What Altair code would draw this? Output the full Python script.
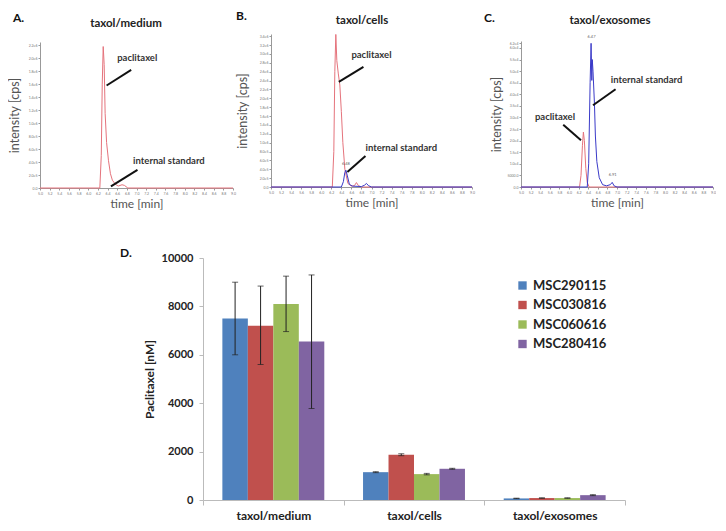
import altair as alt
import pandas as pd

RED = "#E5737C"
BLUE = "#3A3AC8"
FONT = "Lato"

# ---------- chromatogram data (time [min], intensity [cps]) ----------
a_pac_t = [5.0, 6.24, 6.27, 6.29, 6.31, 6.33, 6.35, 6.38, 6.42, 6.46, 6.50, 6.56, 6.62, 6.70, 6.75, 6.82, 9.0]
a_pac_i = [0, 0, 0.5e6, 1.6e6, 2.18e6, 1.9e6, 1.15e6, 0.7e6, 0.42e6, 0.22e6, 0.12e6, 0.06e6, 0.03e6, 0.05e6, 0.04e6, 0, 0]

b_pac_t = [5.0, 6.22, 6.25, 6.27, 6.29, 6.31, 6.34, 6.37, 6.40, 6.43, 6.47, 6.53, 6.60, 6.66, 6.70, 6.74, 6.80, 9.0]
b_pac_i = [0, 0, 0.8e6, 2.6e6, 3.44e6, 2.85e6, 2.55e6, 2.3e6, 1.7e6, 1.0e6, 0.4e6, 0.08e6, 0.02e6, 0.03e6, 0.1e6, 0.03e6, 0, 0]
b_is_t = [5.0, 6.40, 6.44, 6.47, 6.49, 6.52, 6.56, 6.62, 6.80, 6.86, 6.90, 6.94, 7.0, 9.0]
b_is_i = [0, 0, 0.12e6, 0.33e6, 0.38e6, 0.25e6, 0.06e6, 0.02e6, 0.01e6, 0.04e6, 0.08e6, 0.03e6, 0, 0]

c_pac_t = [5.0, 6.22, 6.25, 6.28, 6.30, 6.32, 6.35, 6.38, 6.42, 9.0]
c_pac_i = [0, 0, 0.5e4, 1.8e4, 2.37e4, 2.0e4, 0.8e4, 0.2e4, 0, 0]
c_is_t = [5.0, 6.38, 6.41, 6.44, 6.46, 6.475, 6.485, 6.50, 6.53, 6.55, 6.58, 6.63, 6.70, 6.78, 6.86, 6.90, 6.94, 7.0, 9.0]
c_is_i = [0, 0, 1.0e4, 4.5e4, 6.2e4, 4.6e4, 5.5e4, 5.0e4, 3.6e4, 2.2e4, 1.1e4, 0.4e4, 0.1e4, 0.05e4, 0.1e4, 0.2e4, 0.05e4, 0, 0]

x_ticks = [5.0, 5.2, 5.4, 5.6, 5.8, 6.0, 6.2, 6.4, 6.6, 6.8, 7.0, 7.2, 7.4, 7.6, 7.8, 8.0, 8.2, 8.4, 8.6, 8.8, 9.0]
a_yticks = [0, 2e5, 4e5, 6e5, 8e5, 1e6, 1.2e6, 1.4e6, 1.6e6, 1.8e6, 2.0e6, 2.2e6]
b_yticks = [0, 2e5, 4e5, 6e5, 8e5, 1e6, 1.2e6, 1.4e6, 1.6e6, 1.8e6, 2.0e6, 2.2e6, 2.4e6, 2.6e6, 2.8e6, 3.0e6, 3.2e6, 3.4e6]
c_yticks = [0, 5000, 10000, 15000, 20000, 25000, 30000, 35000, 40000, 45000, 50000, 55000, 60000, 62000]

# annotations (label text, x, y) and callout lines (x, y, x2, y2) in data units
a_lab_text = ["paclitaxel", "internal standard"]
a_lab_x = [6.60, 6.93]
a_lab_y = [2.0e6, 0.42e6]
a_arr = [[6.89, 1.82e6, 6.38, 1.58e6], [7.02, 0.28e6, 6.47, 0.026e6]]

b_lab_text = ["paclitaxel", "internal standard"]
b_lab_x = [6.60, 6.88]
b_lab_y = [2.98e6, 0.89e6]
b_arr = [[6.84, 2.71e6, 6.35, 2.37e6], [6.88, 0.70e6, 6.52, 0.34e6]]
b_peak = [["6.48", 6.49, 0.47e6]]

c_lab_text = ["internal standard", "paclitaxel"]
c_lab_x = [6.87, 5.29]
c_lab_y = [4.6e4, 3.02e4]
c_arr = [[6.97, 4.22e4, 6.50, 3.53e4], [5.88, 2.69e4, 6.25, 2.02e4]]
c_peak = [["6.47", 6.47, 6.4e4], ["6.91", 6.91, 0.45e4]]

# ---------- bar chart data ----------
categories = ["taxol/medium", "taxol/cells", "taxol/exosomes"]
series = ["MSC290115", "MSC030816", "MSC060616", "MSC280416"]
bar_colors = ["#4F81BD", "#C0504D", "#9BBB59", "#8064A2"]
v_290115 = [7500, 1150, 65]
v_030816 = [7200, 1870, 80]
v_060616 = [8100, 1070, 80]
v_280416 = [6550, 1290, 200]
lo_290115 = [6000, 1130, 55]
hi_290115 = [9000, 1170, 75]
lo_030816 = [5600, 1830, 70]
hi_030816 = [8840, 1910, 90]
lo_060616 = [6960, 1040, 70]
hi_060616 = [9250, 1100, 90]
lo_280416 = [3780, 1270, 180]
hi_280416 = [9300, 1310, 220]


def lab_expr(special=None):
    e = "datum.value == 0 ? '0.0' : "
    if special:
        e += "datum.value == %d ? '%s' : " % special
    e += "replace(format(datum.value, '.1e'), '+', '')"
    return e


def chromo(traces, ymax, yticks, yexpr, w, h, yrange, letter, title, anchor_xy, letter_xy, title_xy,
           lab_text, lab_x, lab_y, arrows, peaks, ytitle_pad):
    rows = []
    for name, ts, vs in traces:
        for t, v in zip(ts, vs):
            rows.append({"t": t, "i": v, "trace": name})
    df = pd.DataFrame(rows)
    xs = alt.X("t:Q", scale=alt.Scale(domain=[5, 9], nice=False, zero=False),
               axis=alt.Axis(values=x_ticks, format=".1f", title="time [min]", labelFontSize=3.5,
                             labelColor="#777", tickSize=2, tickColor="#999", domainColor="#999",
                             labelPadding=1, labelOverlap=False, labelFlush=False, grid=False,
                             titleFont=FONT, titleFontSize=12, titleFontWeight="normal",
                             titleColor="#555", titlePadding=4))
    yscale = alt.Scale(domain=[0, ymax], nice=False, range=yrange) if yrange else \
        alt.Scale(domain=[0, ymax], nice=False)
    ys = alt.Y("i:Q", scale=yscale,
               axis=alt.Axis(values=yticks, labelExpr=yexpr, title="intensity [cps]", labelFontSize=3.5,
                             labelColor="#777", tickSize=2, tickColor="#999", domainColor="#999",
                             labelPadding=1, labelOverlap=False, labelFlush=False, grid=False,
                             titleFont=FONT, titleFontSize=12.5, titleFontWeight="normal",
                             titleColor="#555", titlePadding=ytitle_pad))
    base = alt.Chart(df)
    layers = []
    for name, _, _ in traces:
        col = RED if name == "paclitaxel" else BLUE
        layers.append(base.transform_filter(alt.datum.trace == name)
                      .mark_line(color=col, strokeWidth=1).encode(x=xs, y=ys))
    arr_df = pd.DataFrame(arrows, columns=["t", "i", "t2", "i2"])
    layers.append(alt.Chart(arr_df).mark_rule(color="#111", strokeWidth=2).encode(
        x=xs, y=ys, x2=alt.X2("t2:Q"), y2=alt.Y2("i2:Q")))
    lab_df = pd.DataFrame({"text": lab_text, "t": lab_x, "i": lab_y})
    layers.append(alt.Chart(lab_df).mark_text(align="left", baseline="middle", font=FONT,
                                              fontWeight="bold", fontSize=9.5, color="#333").encode(
        x=xs, y=ys, text="text:N"))
    if peaks:
        pk_df = pd.DataFrame(peaks, columns=["text", "t", "i"])
        layers.append(alt.Chart(pk_df).mark_text(fontSize=4, color="#666", baseline="bottom").encode(
            x=xs, y=ys, text="text:N"))
    txt = pd.DataFrame({"s": [letter], "ti": [title], "a": ["."]})
    layers.append(alt.Chart(txt).mark_text(align="left", baseline="top", font=FONT, fontWeight="bold",
                                           fontSize=12, color="#111").encode(
        x=alt.value(letter_xy[0]), y=alt.value(letter_xy[1]), text="s:N"))
    layers.append(alt.Chart(txt).mark_text(align="center", baseline="middle", font=FONT, fontWeight="bold",
                                           fontSize=11.5, color="#222").encode(
        x=alt.value(title_xy[0]), y=alt.value(title_xy[1]), text="ti:N"))
    layers.append(alt.Chart(txt).mark_text(align="left", baseline="top", opacity=0, fontSize=2).encode(
        x=alt.value(anchor_xy[0]), y=alt.value(anchor_xy[1]), text="a:N"))
    return alt.layer(*layers).properties(width=w, height=h)


pA = chromo([("paclitaxel", a_pac_t, a_pac_i)], 2.25e6, a_yticks, lab_expr(), 193, 154, [154, 8],
            "A.", "taxol/medium", (-27, 0), (-27, -21), (86, -10),
            a_lab_text, a_lab_x, a_lab_y, a_arr, None, 7)
pB = chromo([("paclitaxel", b_pac_t, b_pac_i), ("internal standard", b_is_t, b_is_i)], 3.45e6, b_yticks,
            lab_expr(), 201, 153, None, "B.", "taxol/cells", (-35, -26), (-35, -23), (91, -13),
            b_lab_text, b_lab_x, b_lab_y, b_arr, b_peak, 10)
pC = chromo([("paclitaxel", c_pac_t, c_pac_i), ("internal standard", c_is_t, c_is_i)], 6.3e4, c_yticks,
            lab_expr((5000, "5000.0")), 192, 153, [153, 7], "C.", "taxol/exosomes", (-46, 0), (-37, -21), (89, -13),
            c_lab_text, c_lab_x, c_lab_y, c_arr, c_peak, 4)

top = alt.hconcat(pA, pB, pC, spacing=0)

# ---------- bar chart ----------
vals = [v_290115, v_030816, v_060616, v_280416]
los = [lo_290115, lo_030816, lo_060616, lo_280416]
his = [hi_290115, hi_030816, hi_060616, hi_280416]
brows = []
for s, v, lo, hi in zip(series, vals, los, his):
    for c, vv, l, h in zip(categories, v, lo, hi):
        brows.append({"cat": c, "series": s, "value": vv, "lo": l, "hi": h})
bdf = pd.DataFrame(brows)

bx = alt.X("cat:N", sort=categories, scale=alt.Scale(paddingInner=0, paddingOuter=0),
           axis=alt.Axis(title=None, labelAngle=0, labelFont=FONT, labelFontSize=12, labelFontWeight="bold",
                         labelColor="#222", tickBand="extent", tickSize=5, tickColor="#bbb",
                         domainColor="#bbb", labelPadding=5))
bxo = alt.XOffset("series:N", sort=series, scale=alt.Scale(paddingInner=0, paddingOuter=0.76))
by = alt.Y("value:Q", scale=alt.Scale(domain=[0, 10000], nice=False),
           axis=alt.Axis(values=[0, 2000, 4000, 6000, 8000, 10000], format="d", title="Paclitaxel [nM]",
                         grid=False, labelFont=FONT, labelFontSize=11, labelFontWeight="bold",
                         labelColor="#222", tickSize=4, tickColor="#bbb", domainColor="#bbb", labelPadding=6,
                         titleFont=FONT, titleFontSize=12, titleFontWeight="bold", titleColor="#222",
                         titlePadding=5))
bars = alt.Chart(bdf).mark_bar().encode(
    x=bx, xOffset=bxo, y=by,
    color=alt.Color("series:N", sort=series, scale=alt.Scale(domain=series, range=bar_colors),
                    legend=alt.Legend(title=None, orient="none", legendX=476, legendY=21,
                                      symbolType="square", symbolSize=70, symbolStrokeWidth=0,
                                      labelFont=FONT, labelFontSize=13, labelFontWeight="bold",
                                      labelColor="#222", rowPadding=5.5, labelOffset=4)))
err = alt.Chart(bdf).mark_rule(color="#222", strokeWidth=1).encode(
    x=bx, xOffset=bxo, y="lo:Q", y2="hi:Q")
cap_hi = alt.Chart(bdf).mark_tick(color="#222", size=6, thickness=1, orient="horizontal").encode(
    x=bx, xOffset=bxo, y="hi:Q")
cap_lo = alt.Chart(bdf).mark_tick(color="#222", size=6, thickness=1, orient="horizontal").encode(
    x=bx, xOffset=bxo, y="lo:Q")
dtxt = pd.DataFrame({"s": ["D."], "a": ["."]})
dlab = alt.Chart(dtxt).mark_text(align="left", baseline="top", font=FONT, fontWeight="bold",
                                 fontSize=12, color="#111").encode(
    x=alt.value(-83), y=alt.value(-10), text="s:N")
danchor = alt.Chart(dtxt).mark_text(align="left", baseline="top", opacity=0, fontSize=2).encode(
    x=alt.value(0), y=alt.value(-48), text="a:N")

barchart = alt.layer(bars, err, cap_hi, cap_lo, dlab, danchor).properties(width=422, height=242)
spacer = alt.Chart(dtxt).mark_point(opacity=0).encode(
    x=alt.value(0), y=alt.value(0)).properties(width=80, height=1)
bottom = alt.hconcat(spacer, barchart, spacing=0)

chart = alt.vconcat(top, bottom, spacing=0).resolve_scale(
    color="independent").configure(padding=0, font=FONT).configure_view(stroke=None)

chart.save("out.html", embed_options={"renderer": "svg", "actions": False})
